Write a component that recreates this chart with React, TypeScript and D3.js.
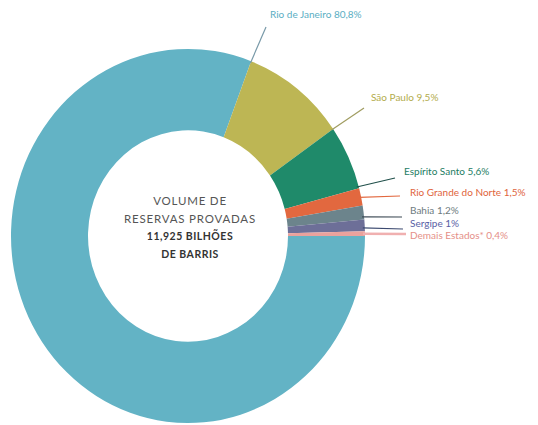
import React from "react";
import * as d3 from "d3";

const categories = [
  "Rio de Janeiro",
  "São Paulo",
  "Espírito Santo",
  "Rio Grande do Norte",
  "Bahia",
  "Sergipe",
  "Demais Estados*",
];
const values = [80.8, 9.5, 5.6, 1.5, 1.2, 1.0, 0.4];
const valueLabels = ["80,8%", "9,5%", "5,6%", "1,5%", "1,2%", "1%", "0,4%"];
const colors = ["#63b3c5", "#bdb654", "#1f8a6a", "#e2683f", "#6c848c", "#6d6f98", "#eaa29d"];
const textColors = ["#5aaec3", "#b3ac4c", "#1d7d63", "#e0643c", "#6d7b80", "#5a5fa6", "#e58f87"];
const lineColors = ["#7899a8", "#a09c60", "#1f4f4a", "#e2683f", "#3d4a55", "#3c4a70", "#f0b0b0"];
const centerLines = ["VOLUME DE", "RESERVAS PROVADAS", "11,925 BILHÕES", "DE BARRIS"];

// layout
const W = 538, H = 425;
const cx = 188, cy = 236;
const rOuter = 177, rInner = 100, yStretch = 1.057;
const anchorFrac = [1.0, 1.0, 0.97, 0.5, 0.8, 0.7, 0.5];
const lineEnds: [number, number][] = [[266, 27], [364, 108], [395, 178], [400, 196], [402, 217], [403, 229], [406, 234]];
const labelPos: [number, number][] = [[270, 18], [371, 101], [404, 175], [410, 196], [410, 214], [410, 227], [410, 239]];

export default function App() {
  const pie = d3.pie<number>().sort(null).startAngle(Math.PI / 2).endAngle(Math.PI / 2 + 2 * Math.PI);
  const arcs = pie(values);
  const arc = d3.arc<d3.PieArcDatum<number>>().innerRadius(rInner).outerRadius(rOuter);
  const pt = (a: number, r: number): [number, number] => [cx + Math.sin(a) * r, cy - Math.cos(a) * r * yStretch];

  return (
    <svg width={W} height={H} style={{ position: "absolute", left: 0, top: 0 }}>
      <rect width={W} height={H} fill="#fff" />
      <g transform={`translate(${cx},${cy}) scale(1,${yStretch})`}>
        {arcs.map((a, i) => (
          <path key={i} d={arc(a) || ""} fill={colors[i]} />
        ))}
      </g>
      {arcs.map((a, i) => {
        const ang = a.startAngle + (a.endAngle - a.startAngle) * anchorFrac[i];
        const [x0, y0] = pt(ang, rOuter - 2);
        const [x1, y1] = lineEnds[i];
        return (
          <line key={"l" + i} x1={x0} y1={y0} x2={x1} y2={y1} stroke={lineColors[i]}
            strokeWidth={i === 6 ? 2.5 : 1.2} />
        );
      })}
      {categories.map((c, i) => (
        <text key={"t" + i} x={labelPos[i][0]} y={labelPos[i][1]} fill={textColors[i]}
          fontFamily="Lato, 'Open Sans', sans-serif" fontSize={10}>
          {c} {valueLabels[i]}
        </text>
      ))}
      {centerLines.map((t, i) => (
        <text key={"c" + i} x={cx + 2} y={205 + i * 17.5} textAnchor="middle"
          fontFamily="Lato, 'Open Sans', sans-serif"
          fontSize={i < 2 ? 11.5 : 10.5} fontWeight={i < 2 ? 400 : 700}
          fill={i < 2 ? "#555" : "#333"} letterSpacing={i < 2 ? 0.8 : 0.5}>
          {t}
        </text>
      ))}
    </svg>
  );
}
